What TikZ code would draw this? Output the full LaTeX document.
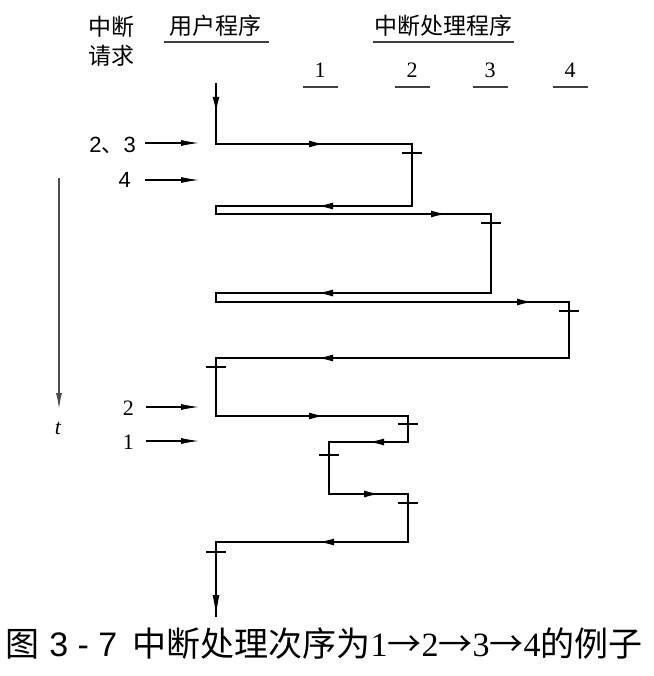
\documentclass[tikz,border=0pt]{standalone}
\usepackage{fontspec}
\setmainfont{Liberation Serif}
\newfontfamily\cjk{Noto Sans CJK SC}
\newfontfamily\sansf{Liberation Sans}
\usetikzlibrary{arrows.meta}
\begin{document}
\begin{tikzpicture}[x=1pt,y=-1pt,
  flow/.style={line width=1.9pt, line join=miter},
  tickmark/.style={line width=1.6pt},
  headtip/.style={line width=1.9pt, -{Latex[length=16pt,width=7pt]}},
  endtip/.style={line width=1.9pt, -{Latex[length=22pt,width=7pt]}},
  reqarrow/.style={line width=1.1pt, -{Latex[length=18pt,width=6pt]}},
  uline/.style={line width=1.4pt, draw=black!75},
  hdr/.style={font=\cjk\fontsize{23}{25}\selectfont, inner sep=0pt},
  num/.style={font=\fontsize{22}{22}\selectfont, inner sep=0pt},
  snum/.style={font=\sansf\fontsize{22}{22}\selectfont, inner sep=0pt}]
\useasboundingbox (0,0) rectangle (653,676);
% header
\node[hdr] (zd1) at (111,27) {中断};
\node[hdr] (zd2) at (111,56) {请求};
\node[hdr] (yh) at (215,26) {用户程序};
\draw[uline] (164,42) -- (269,42);
\node[hdr] (zdcl) at (443,26) {中断处理程序};
\draw[uline] (373,42) -- (514,42);
\foreach \n/\x in {1/320,2/412,3/490,4/570}{
  \node[num] (h\n) at (\x,70) {\n};
  \draw[uline] (\x-17.5,87) -- (\x+17.5,87);
}
% corners
\coordinate (p0) at (216,83);
\coordinate (p1) at (216,144);
\coordinate (p2) at (412,144);
\coordinate (p3) at (412,206);
\coordinate (p4) at (216,206);
\coordinate (p5) at (216,214);
\coordinate (p6) at (491,214);
\coordinate (p7) at (491,293);
\coordinate (p8) at (216,293);
\coordinate (p9) at (216,302);
\coordinate (p10) at (569,302);
\coordinate (p11) at (569,358);
\coordinate (p12) at (216,358);
\coordinate (p13) at (216,416);
\coordinate (p14) at (408,416);
\coordinate (p15) at (408,442);
\coordinate (p16) at (329,442);
\coordinate (p17) at (329,494);
\coordinate (p18) at (408,494);
\coordinate (p19) at (408,542);
\coordinate (p20) at (216,542);
\coordinate (p21) at (216,617);
\draw[flow] (p0) -- (p1) -- (p2) -- (p3) -- (p4) -- (p5) -- (p6) -- (p7) -- (p8) -- (p9) -- (p10) -- (p11) -- (p12) -- (p13) -- (p14) -- (p15) -- (p16) -- (p17) -- (p18) -- (p19) -- (p20) -- (p21);
\draw[endtip] (216,595) -- (p21);
% mid arrowheads
\draw[headtip] (216,96) -- (216,113);
\draw[headtip] (308,144) -- (325,144);
\draw[headtip] (334,206) -- (317,206);
\draw[headtip] (430,214) -- (447,214);
\draw[headtip] (334,293) -- (317,293);
\draw[headtip] (516,302) -- (533,302);
\draw[headtip] (334,358) -- (317,358);
\draw[headtip] (308,416) -- (325,416);
\draw[headtip] (385,442) -- (368,442);
\draw[headtip] (363,494) -- (380,494);
\draw[headtip] (335,542) -- (318,542);
% ticks
\foreach \x/\y in {412/153,491/223,569/311,216/367,408/424,329/455,408/503,216/552}
  \draw[tickmark] (\x-10,\y) -- (\x+10,\y);
% requests
\node[snum, anchor=east] (r23) at (136,145) {2{\cjk 、}3};
\node[snum, anchor=east] (r4) at (131,180) {4};
\node[num, anchor=east] (r2) at (134,408) {2};
\node[num, anchor=east] (r1) at (134,442) {1};
\coordinate (a23) at (145,143); \coordinate (b23) at (199,143);
\coordinate (a4) at (145,180); \coordinate (b4) at (199,180);
\coordinate (a2) at (146,407); \coordinate (b2) at (199,407);
\coordinate (a1) at (146,441); \coordinate (b1) at (199,441);
\draw[reqarrow] (a23) -- (b23);
\draw[reqarrow] (a4) -- (b4);
\draw[reqarrow] (a2) -- (b2);
\draw[reqarrow] (a1) -- (b1);
% time axis
\coordinate (t0) at (59,178);
\coordinate (t1) at (59,409);
\draw[line width=1.2pt, draw=black!70, -{Latex[length=16pt,width=6pt]}] (t0) -- (t1);
\node[font=\itshape\fontsize{22}{22}\selectfont, inner sep=0pt] (tl) at (58,428) {t};
% caption
\node[anchor=west, inner sep=0pt, font=\fontsize{34}{36}\selectfont] (cap) at (5,644)
  {{\cjk 图}\hspace{0.3em}{\sansf 3 - 7}\hspace{0.45em}{\cjk 中断处理次序为}1{\cjk →}2{\cjk →}3{\cjk →}4{\cjk 的例子}};
\end{tikzpicture}
\end{document}
